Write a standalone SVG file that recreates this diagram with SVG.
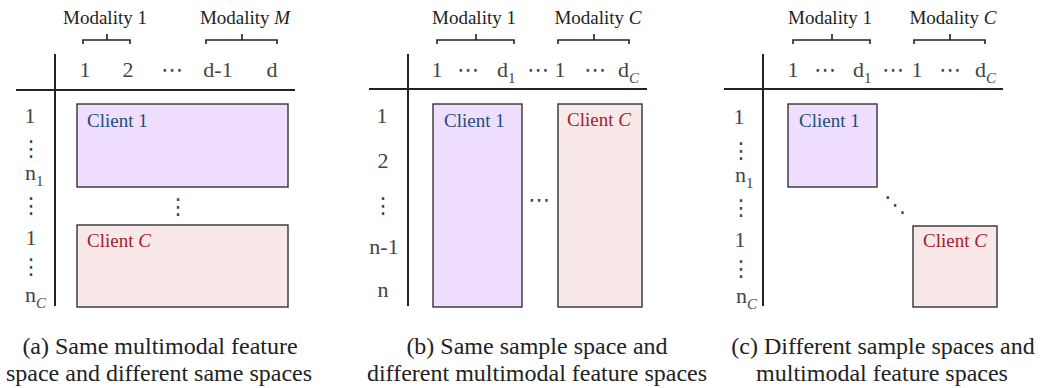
<svg xmlns="http://www.w3.org/2000/svg" width="1047" height="388" viewBox="0 0 1047 388">
<style>
.ax{stroke:#222;stroke-width:2;fill:none}
.br{stroke:#222;stroke-width:1.6;fill:none}
.mod{font-family:"Liberation Serif",serif;font-size:19px;fill:#222;text-anchor:middle}
.num{font-family:"Liberation Serif",serif;font-size:22px;fill:#444}
.mid{text-anchor:middle}
.sub{font-size:15px}
.dots{font-family:"DejaVu Sans",sans-serif;font-size:22px;fill:#444;text-anchor:middle}
.c1{fill:#efdefd;stroke:#333;stroke-width:1.4}
.cC{fill:#f9e8e8;stroke:#333;stroke-width:1.4}
.t1{font-family:"Liberation Serif",serif;font-size:19px;fill:#1f4e79}
.tC{font-family:"Liberation Serif",serif;font-size:19px;fill:#a51c30}
.cap{font-family:"Liberation Serif",serif;font-size:24px;fill:#222;text-anchor:middle}
</style>

<g id="panel-a">
  <g id="a-axes">
    <line class="ax" x1="55" y1="54" x2="55" y2="306"/>
    <line class="ax" x1="16" y1="90" x2="295" y2="90"/>
  </g>
  <g id="a-modalities">
    <text class="mod" x="105" y="24">Modality 1</text>
    <path class="br" d="M83,44 L83,40 L130,40 L130,44 M107,40 L107,34"/>
    <text class="mod" x="245" y="24">Modality <tspan font-style="italic">M</tspan></text>
    <path class="br" d="M206,44 L206,40 L277,40 L277,44 M242,40 L242,34"/>
  </g>
  <g id="a-columns">
    <text class="num mid" x="85" y="77">1</text>
    <text class="num mid" x="128" y="77">2</text>
    <text class="dots" x="172" y="77">⋯</text>
    <text class="num mid" x="218" y="77">d-1</text>
    <text class="num mid" x="272" y="77">d</text>
  </g>
  <g id="a-rows">
    <text class="num mid" x="30" y="123">1</text>
    <text class="dots" x="31" y="156">⋮</text>
    <text class="num" x="25" y="180">n<tspan class="sub" dy="6">1</tspan></text>
    <text class="dots" x="31" y="213">⋮</text>
    <text class="num mid" x="31" y="245">1</text>
    <text class="dots" x="31" y="274">⋮</text>
    <text class="num" x="25" y="302">n<tspan class="sub" dy="6" font-style="italic">C</tspan></text>
  </g>
  <g id="a-client1">
    <rect class="c1" x="77" y="104" width="211" height="83"/>
    <text class="t1" x="87" y="127">Client 1</text>
  </g>
  <text class="dots" x="178" y="214">⋮</text>
  <g id="a-clientC">
    <rect class="cC" x="77" y="225" width="211" height="82"/>
    <text class="tC" x="87" y="247">Client <tspan font-style="italic">C</tspan></text>
  </g>
  <text class="cap" x="160" y="354">(a) Same multimodal feature</text>
  <text class="cap" x="159" y="381">space and different same spaces</text>
</g>

<g id="panel-b">
  <g id="b-axes">
    <line class="ax" x1="408" y1="54" x2="408" y2="306"/>
    <line class="ax" x1="369" y1="89" x2="647" y2="89"/>
  </g>
  <g id="b-modalities">
    <text class="mod" x="474" y="24">Modality 1</text>
    <path class="br" d="M437,44 L437,40 L514,40 L514,44 M476,40 L476,34"/>
    <text class="mod" x="598" y="24">Modality <tspan font-style="italic">C</tspan></text>
    <path class="br" d="M558,44 L558,40 L629,40 L629,44 M594,40 L594,34"/>
  </g>
  <g id="b-columns">
    <text class="num mid" x="437" y="77">1</text>
    <text class="dots" x="468" y="77">⋯</text>
    <text class="num" x="497" y="77">d<tspan class="sub" dy="6">1</tspan></text>
    <text class="dots" x="538" y="77">⋯</text>
    <text class="num mid" x="560" y="77">1</text>
    <text class="dots" x="595" y="77">⋯</text>
    <text class="num" x="618" y="77">d<tspan class="sub" dy="6" font-style="italic">C</tspan></text>
  </g>
  <g id="b-rows">
    <text class="num mid" x="382" y="123">1</text>
    <text class="num mid" x="383" y="168">2</text>
    <text class="dots" x="383" y="213">⋮</text>
    <text class="num mid" x="384" y="254">n-1</text>
    <text class="num mid" x="383" y="297">n</text>
  </g>
  <g id="b-client1">
    <rect class="c1" x="433" y="104" width="89" height="203"/>
    <text class="t1" x="444" y="127">Client 1</text>
  </g>
  <text class="dots" x="539" y="207">⋯</text>
  <g id="b-clientC">
    <rect class="cC" x="558" y="104" width="84" height="203"/>
    <text class="tC" x="567" y="126">Client <tspan font-style="italic">C</tspan></text>
  </g>
  <text class="cap" x="537" y="354">(b) Same sample space and</text>
  <text class="cap" x="537" y="381">different multimodal feature spaces</text>
</g>

<g id="panel-c">
  <g id="c-axes">
    <line class="ax" x1="763" y1="54" x2="763" y2="306"/>
    <line class="ax" x1="724" y1="89" x2="1003" y2="89"/>
  </g>
  <g id="c-modalities">
    <text class="mod" x="830" y="24">Modality 1</text>
    <path class="br" d="M793,44 L793,40 L870,40 L870,44 M832,40 L832,34"/>
    <text class="mod" x="953" y="24">Modality <tspan font-style="italic">C</tspan></text>
    <path class="br" d="M914,44 L914,40 L985,40 L985,44 M950,40 L950,34"/>
  </g>
  <g id="c-columns">
    <text class="num mid" x="793" y="77">1</text>
    <text class="dots" x="825" y="77">⋯</text>
    <text class="num" x="853" y="77">d<tspan class="sub" dy="6">1</tspan></text>
    <text class="dots" x="893" y="77">⋯</text>
    <text class="num mid" x="917" y="77">1</text>
    <text class="dots" x="950" y="77">⋯</text>
    <text class="num" x="975" y="77">d<tspan class="sub" dy="6" font-style="italic">C</tspan></text>
  </g>
  <g id="c-rows">
    <text class="num mid" x="739" y="124">1</text>
    <text class="dots" x="741" y="158">⋮</text>
    <text class="num" x="735" y="182">n<tspan class="sub" dy="6">1</tspan></text>
    <text class="dots" x="741" y="215">⋮</text>
    <text class="num mid" x="740" y="247">1</text>
    <text class="dots" x="741" y="276">⋮</text>
    <text class="num" x="736" y="303">n<tspan class="sub" dy="6" font-style="italic">C</tspan></text>
  </g>
  <g id="c-client1">
    <rect class="c1" x="788" y="104" width="89" height="83"/>
    <text class="t1" x="799" y="127">Client 1</text>
  </g>
  <text class="dots" x="895" y="212">⋱</text>
  <g id="c-clientC">
    <rect class="cC" x="913" y="226" width="84" height="81"/>
    <text class="tC" x="923" y="247">Client <tspan font-style="italic">C</tspan></text>
  </g>
  <text class="cap" x="883" y="354">(c) Different sample spaces and</text>
  <text class="cap" x="882" y="381">multimodal feature spaces</text>
</g>
</svg>
